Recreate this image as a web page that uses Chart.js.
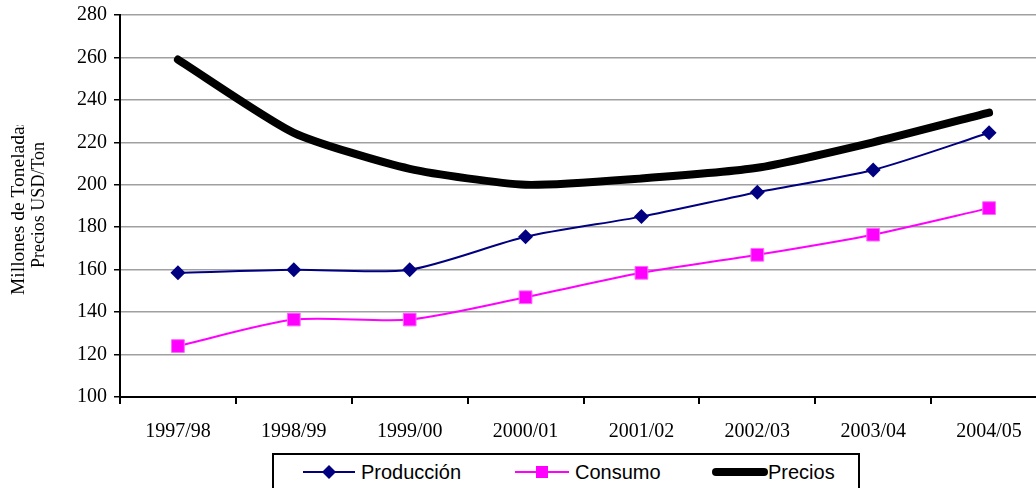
<!DOCTYPE html>
<html>
<head>
<meta charset="utf-8">
<script src="https://cdn.jsdelivr.net/npm/chart.js@4/dist/chart.umd.min.js"></script>
<style>
  html, body { margin: 0; padding: 0; background: #fff; overflow: hidden; }
  #wrap { position: relative; width: 1036px; height: 488px; overflow: hidden; }
  #chart { position: absolute; left: 0; top: 0; }
  #legend {
    position: absolute; left: 272px; top: 453px; width: 588px; height: 50px;
    border: 2px solid #000; box-sizing: border-box; background: #fff;
    font-family: "Liberation Sans", Arial, sans-serif; font-size: 20px; color: #000;
  }
  .item { position: absolute; top: 4px; height: 26px; display: flex; align-items: center; }
  .item svg { margin-right: 6px; }
</style>
</head>
<body>
<div id="wrap">
  <canvas id="chart" width="1057" height="488"></canvas>
  <div id="legend">
    <div class="item" style="left:29px">
      <svg width="52" height="20"><line x1="0" y1="10" x2="52" y2="10" stroke="#000080" stroke-width="2"/><polygon points="26,3 33,10 26,17 19,10" fill="#000080"/></svg>Producción
    </div>
    <div class="item" style="left:241px">
      <svg width="54" height="20"><line x1="0" y1="10" x2="54" y2="10" stroke="#ff00ff" stroke-width="2"/><rect x="21" y="4" width="12" height="12" fill="#ff00ff"/></svg>Consumo
    </div>
    <div class="item" style="left:438px">
      <svg width="56" height="20" style="margin-right:0"><line x1="4" y1="10" x2="52" y2="10" stroke="#000" stroke-width="8" stroke-linecap="round"/></svg>Precios
    </div>
  </div>
</div>
<script>
// values
const categories = ['1997/98', '1998/99', '1999/00', '2000/01', '2001/02', '2002/03', '2003/04', '2004/05'];
const produccion = [158.5, 160, 160, 175.5, 185, 196.5, 207, 224.5];
const consumo = [124, 136.5, 136.5, 147, 158.5, 167, 176.5, 189];
const precios = [259, 224.5, 207.5, 200, 203, 208, 220, 234];
const yMin = 100, yMax = 280, yStep = 20;

const serif = "'Liberation Serif', 'Times New Roman', serif";

// rotated two line axis title, first line is cut off at the top like the original
const axisTitle = {
    id: 'axisTitle',
    afterDraw(chart) {
        const ctx = chart.ctx;
        ctx.save();
        ctx.fillStyle = '#000';
        ctx.textBaseline = 'middle';

        ctx.save();
        ctx.beginPath();
        ctx.rect(0, 125, 60, 300);
        ctx.clip();
        ctx.font = '19.5px ' + serif;
        ctx.translate(19, 295);
        ctx.rotate(-Math.PI / 2);
        ctx.textAlign = 'left';
        ctx.fillText('Millones de Toneladas', 0, 0);
        ctx.restore();

        ctx.font = '18px ' + serif;
        ctx.translate(39, 205);
        ctx.rotate(-Math.PI / 2);
        ctx.textAlign = 'center';
        ctx.fillText('Precios USD/Ton', 0, 0);
        ctx.restore();
    }
};

new Chart(document.getElementById('chart'), {
    type: 'line',
    data: {
        labels: categories,
        datasets: [{
            label: 'Producción',
            data: produccion,
            borderColor: '#000080',
            backgroundColor: '#000080',
            borderWidth: 2,
            pointStyle: 'rectRot',
            pointRadius: 7.5,
            pointBorderWidth: 0,
            tension: 0.25
        }, {
            label: 'Consumo',
            data: consumo,
            borderColor: '#ff00ff',
            backgroundColor: '#ff00ff',
            borderWidth: 2,
            pointStyle: 'rect',
            pointRadius: 9,
            pointBorderColor: '#ff66ff',
            pointBorderWidth: 1,
            tension: 0.25
        }, {
            label: 'Precios',
            data: precios,
            borderColor: '#000',
            backgroundColor: '#000',
            borderWidth: 8,
            borderCapStyle: 'round',
            pointRadius: 0,
            tension: 0.2
        }]
    },
    options: {
        responsive: false,
        animation: false,
        layout: { padding: { top: 15, left: 0, right: 0, bottom: 0 } },
        plugins: {
            legend: { display: false },
            tooltip: { enabled: false }
        },
        scales: {
            x: {
                offset: true,
                grid: { offset: true, drawOnChartArea: false, tickColor: '#000', tickLength: 7, lineWidth: 2 },
                border: { color: '#000', width: 2 },
                ticks: { color: '#000', font: { family: serif, size: 20 }, padding: 16, maxRotation: 0 },
                afterFit(scale) { scale.height = 91; }
            },
            y: {
                min: yMin,
                max: yMax,
                ticks: { stepSize: yStep, color: '#000', font: { family: serif, size: 20, lineHeight: 1 }, padding: 7 },
                grid: { color: '#a0a0a0', tickColor: '#000', tickLength: 6, lineWidth: 1.5 },
                border: { color: '#000', width: 2 },
                afterFit(scale) {
                    scale.width = 120;
                    scale.paddingTop = 0;
                    scale.paddingBottom = 0;
                }
            }
        }
    },
    plugins: [axisTitle]
});
</script>
</body>
</html>
